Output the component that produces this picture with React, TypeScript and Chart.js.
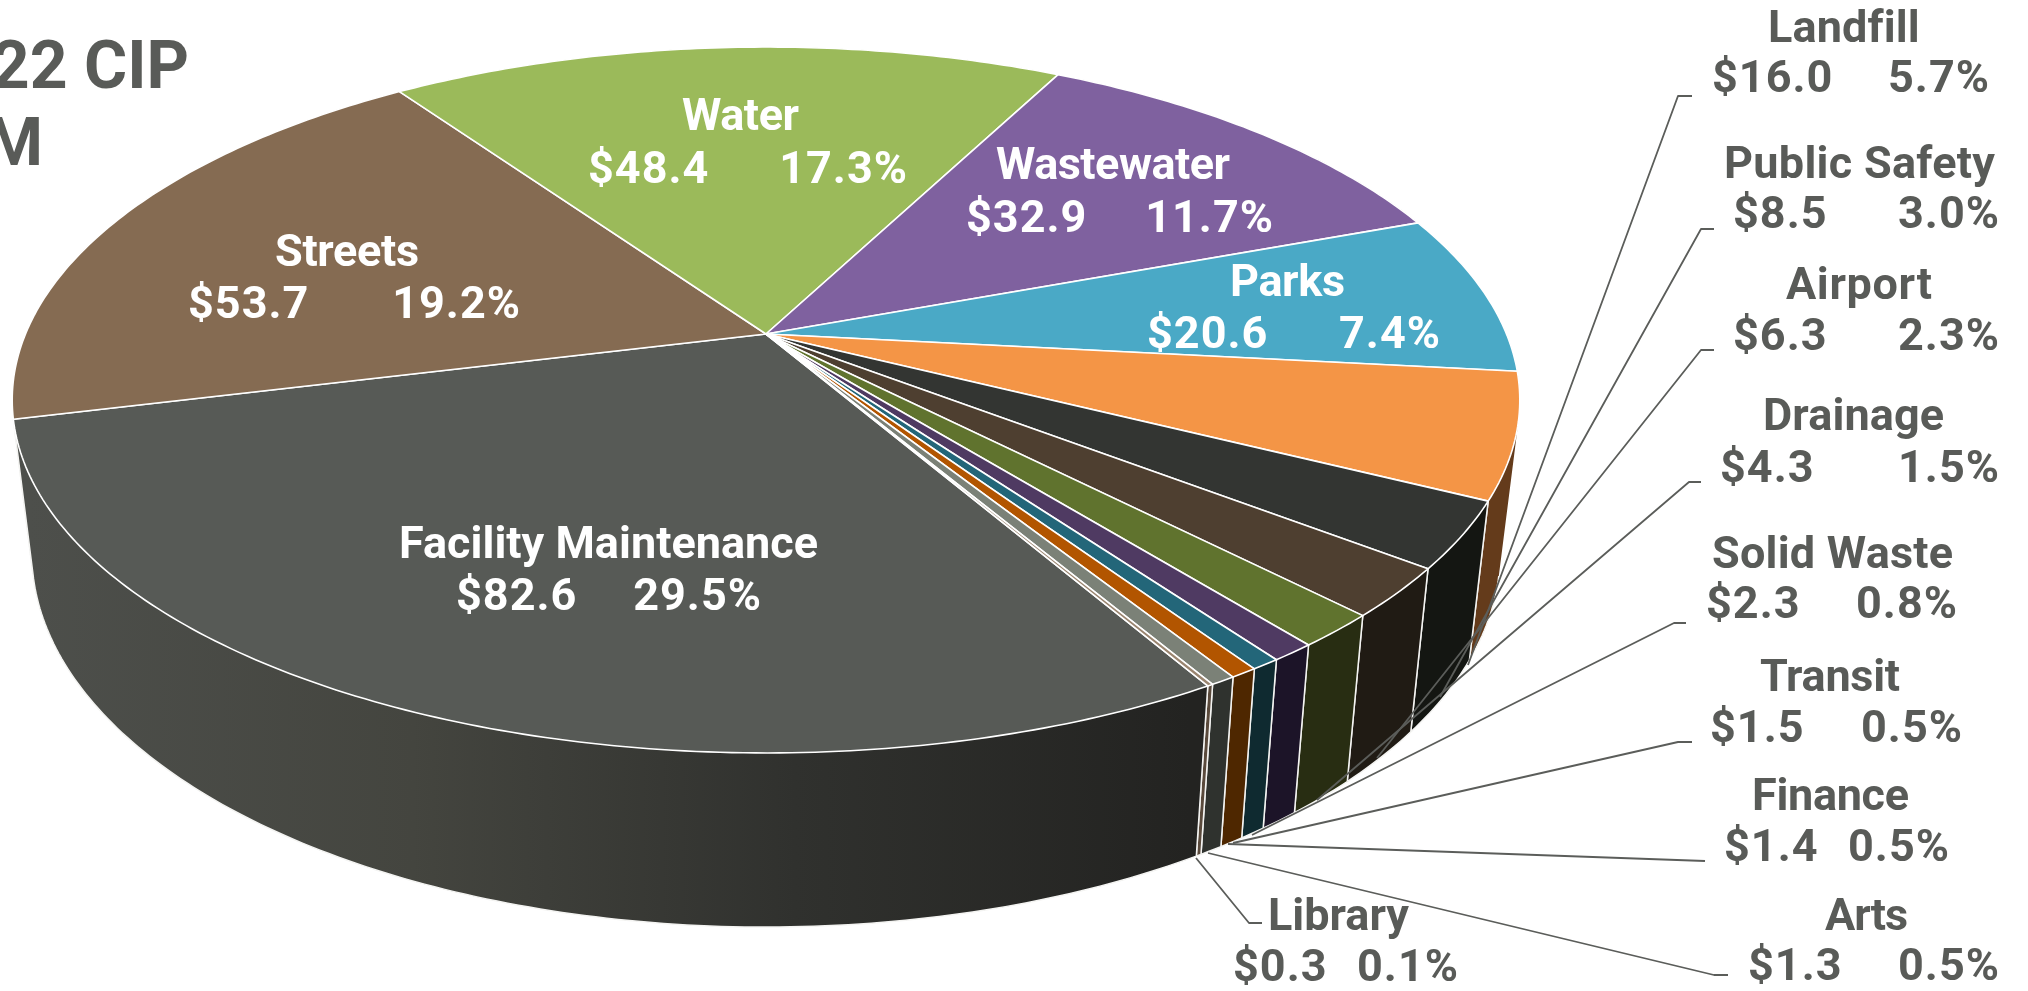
import React, { useEffect, useRef } from "react";
import { Chart, registerables } from "chart.js";

Chart.register(...registerables);

const categories = ["Facility Maintenance", "Streets", "Water", "Wastewater", "Parks", "Landfill", "Public Safety", "Airport", "Drainage", "Solid Waste", "Transit", "Finance", "Arts", "Library"];
const amounts = [82.6, 53.7, 48.4, 32.9, 20.6, 16.0, 8.5, 6.3, 4.3, 2.3, 1.5, 1.4, 1.3, 0.3];
const percents = ["29.5", "19.2", "17.3", "11.7", "7.4", "5.7", "3.0", "2.3", "1.5", "0.8", "0.5", "0.5", "0.5", "0.1"];
const topColors = ["#575a56", "#856b52", "#9bba5a", "#7f619f", "#4aa9c6", "#f49546", "#333532", "#4e3f30", "#60732e", "#4f3a62", "#236679", "#b25500", "#7b8177", "#9a8570"];
const wallColors = ["#333", "#4f3f30", "#5c6e35", "#4c3a5f", "#2c6576", "#643b1b", "#141612", "#201b14", "#282d12", "#1c1428", "#0f2a30", "#4e2700", "#2f322e", "#5a4a3c"];

// Label placement: name [left, right, baseline], value line [left, right, baseline]
const labelBoxes: number[][] = [
  [399, 818, 558, 456, 762, 610],
  [275, 419, 266, 188, 521, 318],
  [682, 799, 130, 588, 908, 183],
  [996, 1230, 179, 966, 1274, 232],
  [1230, 1345, 296, 1147, 1441, 348],
  [1768, 1919, 42, 1712, 1990, 92],
  [1724, 1995, 178, 1733, 2000, 228],
  [1786, 1932, 299, 1733, 2000, 350],
  [1763, 1944, 430, 1720, 2000, 482],
  [1712, 1953, 568, 1706, 1958, 618],
  [1760, 1900, 691, 1710, 1963, 742],
  [1752, 1909, 810, 1724, 1950, 861],
  [1825, 1908, 930, 1748, 2000, 980],
  [1268, 1409, 930, 1233, 1459, 981],
];
const insideCount = 5;
const leaderPaths: number[][][] = [
  [], [], [], [], [],
  [[1692, 96], [1678, 96], [1468, 665]],
  [[1714, 229], [1701, 229], [1440, 697]],
  [[1714, 350], [1701, 350], [1377, 758]],
  [[1701, 482], [1689, 482], [1317, 800]],
  [[1686, 623], [1674, 623], [1252, 835]],
  [[1692, 742], [1678, 742], [1233, 843]],
  [[1705, 861], [1228, 844]],
  [[1728, 975], [1714, 975], [1208, 853]],
  [[1262, 923], [1249, 923], [1196, 858]],
];

const FONT = 'Roboto, "Liberation Sans", sans-serif';
const GREY = "#595b58";

// Perspective view of the pie's top face and its lower ring
const APEX_X = 766, APEX_Y = 334, PX = 740.5, PY = 340.6, PK = -0.187;
const FRONT_Y = 418; // rim points below this are on the visible, front side of the wall
const project = (angle: number) => {
  const u = Math.cos(angle), v = Math.sin(angle);
  const w = 1 + PK * v;
  return [APEX_X + (PX * u) / w, APEX_Y + (PY * v) / w];
};
const lower = (p: number[]) => [APEX_X + 0.974 * (p[0] - APEX_X), 483 + 1.06 * (p[1] - APEX_Y)];

const arcPoints = (a0: number, a1: number) => {
  const n = Math.max(2, Math.ceil(Math.abs(a1 - a0) / (Math.PI / 240)));
  const pts: number[][] = [];
  for (let i = 0; i <= n; i++) pts.push(project(a0 + ((a1 - a0) * i) / n));
  return pts;
};

const piePlugin = {
  id: "perspectivePie",
  beforeDatasetsDraw(chart: any) {
    const ctx: CanvasRenderingContext2D = chart.ctx;
    const arcs: any[] = chart.getDatasetMeta(0).data;
    ctx.save();
    ctx.lineJoin = "round";

    // walls: back to front, one quad per rim step so the fold at the silhouette stays filled
    const order = arcs.map((a, i) => ({ i, a, my: project((a.startAngle + a.endAngle) / 2)[1] })).sort((p, q) => p.my - q.my);
    for (const { i, a } of order) {
      const rim = arcPoints(a.startAngle, a.endAngle);
      const low = rim.map(lower);
      ctx.beginPath();
      for (let k = 0; k < rim.length - 1; k++) {
        const q = [rim[k], rim[k + 1], low[k + 1], low[k]];
        let area = 0;
        q.forEach((p, m) => {
          const r = q[(m + 1) % 4];
          area += p[0] * r[1] - r[0] * p[1];
        });
        const pts = area < 0 ? [...q].reverse() : q;
        pts.forEach((p, m) => (m ? ctx.lineTo(p[0], p[1]) : ctx.moveTo(p[0], p[1])));
        ctx.closePath();
      }
      if (i === 0) {
        const g = ctx.createLinearGradient(30, 0, 1190, 0);
        g.addColorStop(0, "#4d4f4b");
        g.addColorStop(0.33, "#44453f");
        g.addColorStop(0.66, "#30312e");
        g.addColorStop(1, "#232321");
        ctx.fillStyle = g;
      } else {
        ctx.fillStyle = wallColors[i];
      }
      ctx.fill();

      // white edges only where the wall faces the viewer
      ctx.strokeStyle = "#f4f4f2";
      ctx.lineWidth = 1.5;
      ctx.beginPath();
      [0, rim.length - 1].forEach((k) => {
        if (rim[k][1] >= FRONT_Y) {
          ctx.moveTo(rim[k][0], rim[k][1]);
          ctx.lineTo(low[k][0], low[k][1]);
        }
      });
      let open = false;
      low.forEach((p, k) => {
        if (rim[k][1] >= FRONT_Y) {
          if (open) ctx.lineTo(p[0], p[1]);
          else ctx.moveTo(p[0], p[1]);
          open = true;
        } else {
          open = false;
        }
      });
      ctx.stroke();
    }

    // top faces
    arcs.forEach((a) => {
      const rim = arcPoints(a.startAngle, a.endAngle);
      ctx.beginPath();
      ctx.moveTo(APEX_X, APEX_Y);
      rim.forEach((p) => ctx.lineTo(p[0], p[1]));
      ctx.closePath();
      ctx.fillStyle = a.options.backgroundColor;
      ctx.fill();
      ctx.strokeStyle = "#ffffff";
      ctx.lineWidth = 1.6;
      ctx.stroke();
    });

    // leader lines
    ctx.strokeStyle = "#5b5d5a";
    ctx.lineWidth = 1.8;
    leaderPaths.forEach((path) => {
      if (!path.length) return;
      ctx.beginPath();
      path.forEach((p, k) => (k ? ctx.lineTo(p[0], p[1]) : ctx.moveTo(p[0], p[1])));
      ctx.stroke();
    });

    // labels
    ctx.textBaseline = "alphabetic";
    ctx.textAlign = "left";
    ctx.font = `bold 45px ${FONT}`;
    categories.forEach((name, i) => {
      const b = labelBoxes[i];
      ctx.fillStyle = i < insideCount ? "#ffffff" : GREY;
      (ctx as any).wordSpacing = "0px";
      (ctx as any).letterSpacing = "0px";
      const w = ctx.measureText(name).width;
      const extra = (b[1] - b[0] - w) / Math.max(1, name.length - 1);
      (ctx as any).letterSpacing = `${extra.toFixed(2)}px`;
      ctx.fillText(name, b[0], b[2]);
      (ctx as any).letterSpacing = "1px";
      const line = `$${amounts[i].toFixed(1)} ${percents[i]}%`;
      const lw = ctx.measureText(line).width;
      (ctx as any).wordSpacing = `${Math.max(0, b[4] - b[3] - lw).toFixed(2)}px`;
      ctx.fillText(line, b[3], b[5]);
      (ctx as any).wordSpacing = "0px";
      (ctx as any).letterSpacing = "0px";
    });

    // cut-off heading
    ctx.fillStyle = GREY;
    ctx.textAlign = "right";
    ctx.font = `bold 66px ${FONT}`;
    ctx.fillText("22 CIP", 189, 88);
    ctx.fillText("M", 43, 165);
    ctx.restore();
    return false;
  },
};

export default function App() {
  const ref = useRef<HTMLCanvasElement>(null);
  useEffect(() => {
    document.body.style.margin = "0";
    document.body.style.background = "#fff";
    const chart = new Chart(ref.current as HTMLCanvasElement, {
      type: "pie",
      data: {
        labels: categories,
        datasets: [{ data: amounts, backgroundColor: topColors, borderWidth: 0 }],
      },
      options: {
        animation: false,
        responsive: false,
        devicePixelRatio: 1,
        rotation: 150,
        events: [],
        plugins: { legend: { display: false }, tooltip: { enabled: false }, title: { display: false } },
      },
      plugins: [piePlugin],
    } as any);
    return () => chart.destroy();
  }, []);
  return <canvas ref={ref} width={2028} height={991} style={{ position: "absolute", left: 0, top: 0, display: "block" }} />;
}
